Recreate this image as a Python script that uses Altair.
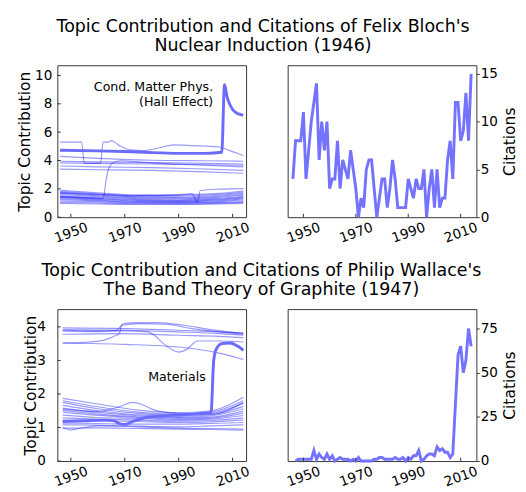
import altair as alt
import pandas as pd

FONT = "DejaVu Sans"
BLUE = "#0000ff"
CITE_COLOR = "#7373ff"
FRAME = "#333333"

# ---------------- citations ----------------
bloch_years = list(range(1946, 2015))
bloch_cites = [4, 8, 8, 8, 11, 4, 7, 10, 12, 14,
               6, 10, 7, 10, 3, 4, 4, 8, 3, 6,
               5, 4, 7, 5, 3, 0, 2, 1, 5, 6,
               6, 3, 0, 2, 4, 4, 1, 3, 6, 4,
               1, 1, 1, 1, 4, 3, 2, 4, 3, 3,
               5, 0, 3, 5, 1, 5, 1, 2, 2, 6,
               8, 4, 12, 12, 8, 9, 13, 8, 15]

wallace_years = list(range(1947, 2015))
wallace_cites = [0, 1, 1, 1, 1, 1, 1, 6, 1, 4,
                 2, 1, 4, 1, 3, 0, 1, 2, 1, 1,
                 1, 0, 1, 0, 2, 0, 0, 0, 0, 0,
                 1, 1, 2, 2, 1, 1, 1, 1, 2, 1,
                 1, 2, 0, 2, 1, 3, 3, 6, 0, 1,
                 3, 4, 4, 3, 8, 6, 7, 5, 5, 2,
                 4, 32, 60, 65, 50, 57, 75, 65]

# ---------------- topic contributions: Bloch ----------------
bloch_hl_years = [1946, 1960, 1975, 1990, 2000, 2006, 2007, 2008, 2009, 2010, 2011, 2012, 2013, 2014]
bloch_hl_vals = [4.72, 4.68, 4.6, 4.5, 4.5, 4.58, 9.35, 8.45, 7.95, 7.6, 7.42, 7.3, 7.24, 7.2]

bloch_step_years = [1946, 1954, 1955, 1961, 1962, 1964, 1965, 1968, 1972, 1977, 1983, 1988, 1995, 2005, 2009, 2014]
bloch_step_vals = [5.3, 5.3, 3.8, 3.8, 5.3, 5.3, 5.4, 5.05, 4.75, 4.7, 4.9, 5.1, 5.05, 4.95, 4.7, 4.35]

bloch_rise_years = [1946, 1955, 1962, 1963, 1964, 1966, 1969, 1975, 1981, 1995, 2014]
bloch_rise_vals = [1.45, 1.38, 1.33, 2.5, 3.4, 3.88, 3.98, 3.9, 3.82, 3.7, 3.55]

bloch_dip_years = [1946, 1960, 1975, 1990, 1995, 1997, 1998, 2005, 2014]
bloch_dip_vals = [1.72, 1.6, 1.52, 1.58, 1.66, 1.05, 1.88, 1.98, 2.02]

bloch_up_years = [1946, 1960, 1980, 2000, 2014]
bloch_upper = [
    [4.29, 4.15, 4.02, 3.98, 3.95],
    [3.95, 3.9, 3.85, 3.8, 3.75],
    [3.84, 3.8, 3.75, 3.7, 3.66],
    [3.61, 3.55, 3.5, 3.4, 3.3],
    [3.39, 3.35, 3.3, 3.2, 3.1],
]

bloch_low_years = [1946, 1960, 1975, 1990, 2005, 2014]
bloch_lower = [
    [1.90, 1.72, 1.58, 1.58, 1.68, 1.85],
    [1.82, 1.65, 1.50, 1.50, 1.62, 1.78],
    [1.75, 1.58, 1.44, 1.42, 1.55, 1.70],
    [1.68, 1.50, 1.38, 1.36, 1.48, 1.62],
    [1.60, 1.44, 1.32, 1.30, 1.42, 1.55],
    [1.50, 1.36, 1.24, 1.22, 1.34, 1.48],
    [1.45, 1.30, 1.20, 1.18, 1.28, 1.42],
    [1.40, 1.26, 1.15, 1.12, 1.22, 1.36],
    [1.33, 1.20, 1.10, 1.08, 1.16, 1.30],
    [1.25, 1.15, 1.05, 1.04, 1.10, 1.22],
    [1.15, 1.08, 1.00, 0.99, 1.04, 1.12],
    [1.05, 1.00, 0.95, 0.94, 0.98, 1.04],
    [0.97, 0.93, 0.90, 0.90, 0.93, 0.98],
]

# ---------------- topic contributions: Wallace ----------------
wal_hl_years = [1947, 1955, 1963, 1966, 1968, 1970, 1973, 1978, 1985, 1995, 2002, 2003, 2004, 2006, 2009, 2012, 2014]
wal_hl_vals = [1.18, 1.2, 1.22, 1.2, 1.12, 1.09, 1.18, 1.3, 1.35, 1.4, 1.44, 3.0, 3.35, 3.5, 3.52, 3.42, 3.3]

wal_step_years = [1947, 1955, 1962, 1966, 1968, 1969, 1972, 1982, 1992, 2002, 2014]
wal_step_vals = [3.52, 3.54, 3.6, 3.72, 3.8, 4.08, 4.12, 4.13, 4.05, 3.92, 3.8]

wal_high_years = [1947, 1960, 1967, 1969, 1975, 1985, 1995, 2005, 2014]
wal_high_vals = [3.9, 3.88, 3.9, 4.05, 4.1, 4.08, 3.95, 3.85, 3.78]

wal_dipu_years = [1947, 1960, 1970, 1978, 1981, 1984, 1990, 1993, 1997, 2005, 2014]
wal_dipu_vals = [3.87, 3.86, 3.88, 3.86, 3.75, 3.53, 3.25, 3.33, 3.58, 3.58, 3.55]

wal_up_years = [1947, 1970, 1990, 2005, 2014]
wal_upper = [
    [3.97, 3.95, 3.90, 3.85, 3.82],
    [3.92, 3.90, 3.85, 3.80, 3.75],
    [3.78, 3.80, 3.75, 3.72, 3.68],
    [3.52, 3.48, 3.40, 3.22, 3.03],
]

wal_bump_years = [1947, 1960, 1968, 1973, 1976, 1980, 1990, 2002, 2014]
wal_bump_vals = [1.55, 1.48, 1.62, 1.75, 1.7, 1.55, 1.42, 1.4, 1.75]

wal_dipl_years = [1947, 1950, 1953, 1960, 1975, 1990, 2002, 2014]
wal_dipl_vals = [1.0, 0.93, 0.97, 1.05, 1.02, 0.98, 0.97, 0.95]

wal_low_years = [1947, 1960, 1975, 1990, 2002, 2014]
wal_lower = [
    [1.87, 1.70, 1.52, 1.44, 1.50, 1.90],
    [1.80, 1.62, 1.46, 1.40, 1.46, 1.80],
    [1.75, 1.56, 1.42, 1.36, 1.42, 1.72],
    [1.66, 1.50, 1.38, 1.33, 1.38, 1.63],
    [1.58, 1.45, 1.35, 1.30, 1.35, 1.56],
    [1.51, 1.40, 1.32, 1.28, 1.31, 1.49],
    [1.46, 1.36, 1.30, 1.25, 1.28, 1.43],
    [1.37, 1.30, 1.27, 1.22, 1.25, 1.36],
    [1.29, 1.25, 1.22, 1.19, 1.21, 1.29],
    [1.22, 1.20, 1.18, 1.15, 1.17, 1.23],
    [1.13, 1.12, 1.10, 1.10, 1.12, 1.15],
    [1.08, 1.07, 1.04, 1.02, 1.05, 1.08],
    [0.98, 0.99, 0.97, 0.95, 0.94, 0.92],
]

x_ticks = [1950, 1970, 1990, 2010]

titles_top = ["Topic Contribution and Citations of Felix Bloch's", "Nuclear Induction (1946)"]
titles_bot = ["Topic Contribution and Citations of Philip Wallace's", "The Band Theory of Graphite (1947)"]

bloch_note = pd.DataFrame({"year": [2002.8, 2002.8], "value": [8.9, 7.88],
                           "text": ["Cond. Matter Phys.", "(Hall Effect)"]})
wal_note = pd.DataFrame({"year": [1978.7], "value": [2.4], "text": ["Materials"]})

W, H = 195, 157


def build_lines(groups):
    rows = []
    for i, (ys, vs) in enumerate(groups):
        for y, v in zip(ys, vs):
            rows.append({"line": f"l{i}", "year": y, "value": v})
    return pd.DataFrame(rows)


def x_enc(domain):
    return alt.X("year:Q", scale=alt.Scale(domain=domain, nice=False, zero=False),
                 axis=alt.Axis(values=x_ticks, format="d", labelAngle=340, labelAlign="center",
                               labelBaseline="middle", labelPadding=16, ticks=False, domain=False,
                               grid=False, labelFontSize=14, labelFont=FONT, labelColor="black",
                               title=None, labelFlush=False, labelOverlap=False))


def topic_y(ydomain, yticks, label_pad, title_x):
    return alt.Y("value:Q", scale=alt.Scale(domain=ydomain, nice=False, zero=False),
                 axis=alt.Axis(values=yticks, format="d", ticks=False, domain=False, grid=False,
                               labelPadding=label_pad, labelFontSize=14, labelFont=FONT,
                               labelColor="black", labelOverlap=False,
                               title="Topic Contribution", titleFontSize=16,
                               titleFont=FONT, titleFontWeight="normal", titleColor="black",
                               titleX=title_x, titleY=H / 2, titleAngle=270,
                               titleBaseline="bottom"))


def cite_y(ydomain, yticks):
    return alt.Y("value:Q", scale=alt.Scale(domain=ydomain, nice=False, zero=False),
                 axis=alt.Axis(orient="right", values=yticks, format="d", tickSize=3,
                               tickColor=FRAME, tickWidth=1, domain=False, grid=False,
                               labelPadding=1, labelFontSize=14, labelFont=FONT,
                               labelColor="black", labelOverlap=False,
                               title="Citations", titleFontSize=16,
                               titleFont=FONT, titleFontWeight="normal", titleColor="black",
                               titleX=26, titleY=H / 2, titleAngle=270, titleBaseline="top"))


def x_tick_layer(xd):
    return alt.Chart(pd.DataFrame({"year": x_ticks})).mark_rule(
        color=FRAME, strokeWidth=1).encode(x=x_enc(xd), y=alt.value(H), y2=alt.value(H - 3.5))


def topic_panel(thin_df, hl_years, hl_vals, note_df, note_align, ydomain, yticks, label_pad,
                title_x, extent):
    xd = [1945, 2015]
    y = topic_y(ydomain, yticks, label_pad, title_x)
    thin = alt.Chart(thin_df).mark_line(color=BLUE, strokeWidth=1.2, opacity=0.4,
                                        interpolate="monotone").encode(
        x=x_enc(xd), y=y, detail="line:N")
    hl_df = pd.DataFrame({"year": hl_years, "value": hl_vals})
    hl = alt.Chart(hl_df).mark_line(color="#6b6bff", strokeWidth=3,
                                    interpolate="monotone").encode(x=x_enc(xd), y=y)
    note = alt.Chart(note_df).mark_text(align=note_align, baseline="alphabetic", fontSize=13,
                                        font=FONT, color="black").encode(
        x=x_enc(xd), y=y, text="text:N")
    yt = alt.Chart(pd.DataFrame({"value": yticks})).mark_rule(color=FRAME, strokeWidth=1).encode(
        y=y, x=alt.value(0), x2=alt.value(3.5))
    # invisible spacer fixing the left extent of the panel
    sp = alt.Chart(pd.DataFrame({"value": [0]})).mark_rule(strokeOpacity=0, opacity=0).encode(
        x=alt.value(-extent), x2=alt.value(-extent + 1), y=alt.value(H / 2))
    return alt.layer(thin, hl, note, x_tick_layer(xd), yt, sp).properties(width=W, height=H)


def cite_panel(years, cites, ydomain, yticks):
    xd = [1944, 2016]
    df = pd.DataFrame({"year": years, "value": cites})
    line = alt.Chart(df).mark_line(color=CITE_COLOR, strokeWidth=3).encode(
        x=x_enc(xd), y=cite_y(ydomain, yticks))
    return alt.layer(line, x_tick_layer(xd)).properties(width=W, height=H)


bloch_thin = build_lines(
    [(bloch_step_years, bloch_step_vals), (bloch_rise_years, bloch_rise_vals),
     (bloch_dip_years, bloch_dip_vals)]
    + [(bloch_up_years, v) for v in bloch_upper]
    + [(bloch_low_years, v) for v in bloch_lower])

wal_thin = build_lines(
    [(wal_step_years, wal_step_vals), (wal_high_years, wal_high_vals),
     (wal_dipu_years, wal_dipu_vals), (wal_bump_years, wal_bump_vals),
     (wal_dipl_years, wal_dipl_vals)]
    + [(wal_up_years, v) for v in wal_upper]
    + [(wal_low_years, v) for v in wal_lower])

tl = topic_panel(bloch_thin, bloch_hl_years, bloch_hl_vals, bloch_note, "right",
                 [0, 10.72], [0, 2, 4, 6, 8, 10], 5.7, -25.6, 42)
tr = cite_panel(bloch_years, bloch_cites, [0, 15.9], [0, 5, 10, 15])
bl = topic_panel(wal_thin, wal_hl_years, wal_hl_vals, wal_note, "left",
                 [0, 4.53], [0, 1, 2, 3, 4], 12.5, -19.5, 45.3)
br = cite_panel(wallace_years, wallace_cites, [0, 86], [0, 25, 50, 75])


def row_title(lines):
    return alt.TitleParams(text=lines, fontSize=18, font=FONT, fontWeight="normal",
                           color="black", lineHeight=20, anchor="middle", offset=10, dx=-4)


row1 = alt.hconcat(tl, tr, spacing=43, bounds="flush").properties(title=row_title(titles_top))
row2 = alt.hconcat(bl, br, spacing=43, bounds="flush").properties(title=row_title(titles_bot))

chart = alt.vconcat(row1, row2, spacing=16).properties(
    padding={"left": 5, "top": 2, "right": 0, "bottom": 0}
).configure_view(stroke=FRAME, strokeWidth=1).configure_axis(labelOverlap=False)

chart.save("out.html", embed_options={"renderer": "svg", "actions": False})
